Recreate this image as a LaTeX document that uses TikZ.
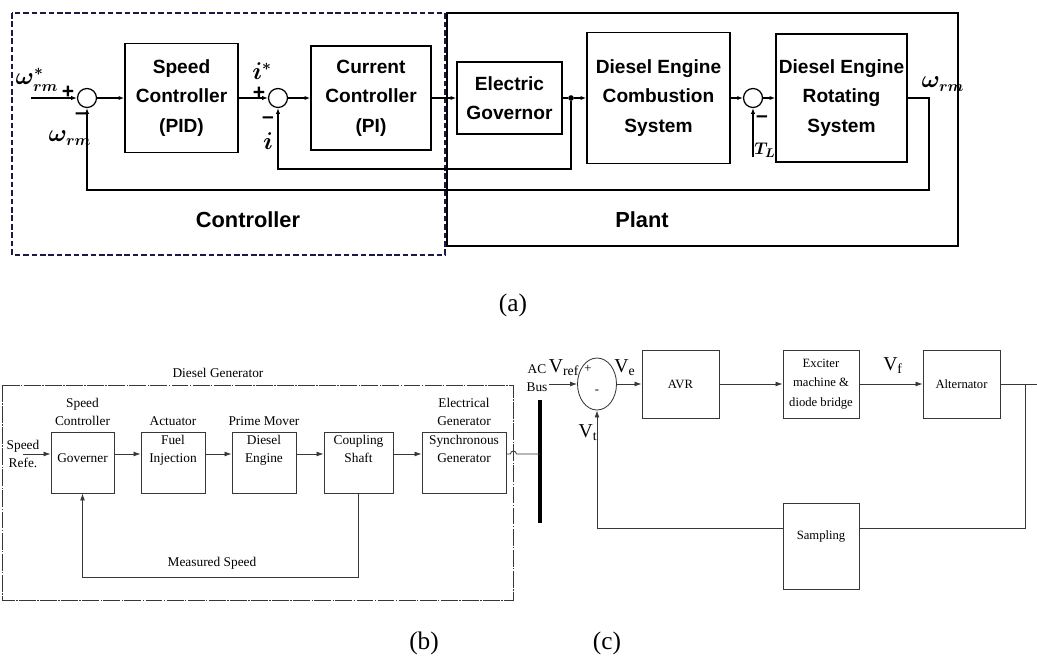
\documentclass[tikz,border=0pt]{standalone}
\usepackage{fontspec}
\setmainfont{Liberation Serif}
\setsansfont{Liberation Sans}
\usepackage{tikz}
\usetikzlibrary{arrows.meta, positioning, calc, shapes.geometric}
\definecolor{ctrlnavy}{RGB}{25,25,70}
\definecolor{thingray}{RGB}{55,55,55}
\newcommand{\pxl}{0.025cm}
\newcommand{\stk}[1]{\begin{tabular}[b]{@{}c@{}}#1\end{tabular}}
\tikzset{
    % bold sans blocks of the drive loop (a)
    ablock/.style 2 args={draw, line width=1.1pt, align=center, inner sep=1pt,
        minimum width=#1*\pxl, minimum height=#2*\pxl,
        font=\sffamily\bfseries\fontsize{13.6}{21}\selectfont},
    % small summing junction
    asum/.style={circle, draw, line width=0.9pt, minimum size=19*\pxl, inner sep=0pt},
    % signal lines of (a)
    asig/.style={-{Latex[length=4pt, width=3pt]}, line width=0.9pt},
    aline/.style={line width=0.9pt},
    amath/.style={font=\boldmath\fontsize{16}{18}\selectfont, inner sep=0pt},
    asign/.style={font=\sffamily\bfseries\fontsize{15}{15}\selectfont, inner sep=0pt},
    atitle/.style={font=\sffamily\bfseries\fontsize{15.5}{18}\selectfont},
    % thin serif blocks of (b) and (c)
    bblock/.style 2 args={draw=thingray, line width=0.6pt, align=center, inner sep=1pt,
        minimum width=#1*\pxl, minimum height=#2*\pxl},
    bstack/.style={text height=4pt, text depth=4pt, font=\fontsize{9.5}{12.8}\selectfont},
    blabel/.style={align=center, inner sep=1pt, font=\fontsize{9.5}{12.8}\selectfont},
    cfont/.style={font=\fontsize{9}{14}\selectfont},
    bsig/.style={-{Latex[length=5pt, width=3.5pt]}, line width=0.6pt, draw=thingray},
    bline/.style={line width=0.6pt, draw=thingray},
    vlab/.style={font=\fontsize{14}{16}\selectfont, inner sep=0pt},
    caption/.style={font=\fontsize{18}{20}\selectfont},
}

\begin{document}
\begin{tikzpicture}[x=0.025cm, y=-0.025cm]
    \useasboundingbox (0,0) rectangle (1037,658);

    % ===== (a) speed loop of the diesel drive =====
    \draw[ctrlnavy, line width=2pt, dash pattern=on 4pt off 2pt] (12,13) rectangle (445,255);
    \draw[line width=1.2pt] (447,13) rectangle (958,246);

    \coordinate (win) at (31,98);
    \node[asum] (s1) at (87,98) {};
    \node[ablock={113}{109}] (spd) at (181.5,98) {Speed\\Controller\\(PID)};
    \node[asum] (s2) at (278,98) {};
    \node[ablock={120}{104}] (cur) at (371,98) {Current\\Controller\\(PI)};
    \node[ablock={105}{72}] (gov) at (509.5,98) {Electric\\Governor};
    \node[circle, fill, inner sep=0pt, minimum size=4pt] (jn) at (571,98) {};
    \node[ablock={143}{131}] (comb) at (658.5,98) {Diesel Engine\\Combustion\\System};
    \node[asum] (s3) at (753,98) {};
    \node[ablock={131}{128}] (rot) at (841.5,98) {Diesel Engine\\Rotating\\System};
    \coordinate (wout) at (929,98);
    \coordinate (tl) at (753,157);

    \draw[asig] (win) -- (s1);
    \draw[asig] (s1) -- (spd);
    \draw[asig] (spd) -- (s2);
    \draw[asig] (s2) -- (cur);
    \draw[asig] (cur) -- (gov);
    \draw[aline] (gov) -- (jn);
    \draw[asig] (jn) -- (comb);
    \draw[asig] (comb) -- (s3);
    \draw[asig] (s3) -- (rot);
    \draw[asig] (tl) -- (s3);
    % current feedback
    \draw[asig] (jn) -- ++(0,71) -| (s2);
    % speed feedback
    \draw[asig] (rot) -- (wout) -- ++(0,92) -| (s1);

    % signal names and signs
    \node[amath] (wref) at (37,80) {$\omega^{*}_{rm}$};
    \node[asign] at (68,92) {+};
    \node[asign] at (81,116) {--};
    \node[amath] (wfb) at (70,138) {$\omega_{rm}$};
    \node[amath] (iref) at (262,71) {$i^{*}$};
    \node[asign] at (259,93) {+};
    \node[asign] at (268,120) {--};
    \node[amath] (ifb) at (268,141) {$i$};
    \node[asign] at (762,119) {--};
    \node[amath, font=\boldmath\fontsize{13}{15}\selectfont] (tload) at (765,150) {$T_{L}$};
    \node[amath] (wrm) at (943,84) {$\omega_{rm}$};

    \node[atitle] at (248,220) {Controller};
    \node[atitle] at (642,220) {Plant};
    \node[caption] at (513,305) {(a)};

    % ===== (b) diesel generator =====
    \draw[bline, dash pattern=on 12pt off 1pt on 1pt off 1pt] (2,385) rectangle (513,600);
    \node[blabel] (dgname) at (218,373) {Diesel Generator};
    \coordinate (brow) at (0,454);

    \node[bblock={63}{61}, bstack] (gvn) at (82.5,462.5) {\stk{Governer}};
    \node[bblock={64}{61}, bstack] (fuel) at (173,462.5) {\stk{Fuel\\Injection}};
    \node[bblock={64}{61}, bstack] (eng) at (264,462.5) {\stk{Diesel\\Engine}};
    \node[bblock={69}{61}, bstack] (shaft) at (358.5,462.5) {\stk{Coupling\\Shaft}};
    \node[bblock={84}{61}, bstack] (syn) at (464,462.5) {\stk{Synchronous\\Generator}};

    \node[blabel, above=3pt of gvn] {Speed\\Controller};
    \node[blabel, above=3pt of fuel] {Actuator};
    \node[blabel, above=3pt of eng] {Prime Mover};
    \node[blabel, above=3pt of syn] {Electrical\\Generator};
    \node[blabel] (sref) at (23,454) {Speed\\Refe.};

    \draw[bsig] (sref.center) -- (gvn.west |- brow);
    \draw[bsig] (gvn.east |- brow) -- (fuel.west |- brow);
    \draw[bsig] (fuel.east |- brow) -- (eng.west |- brow);
    \draw[bsig] (eng.east |- brow) -- (shaft.west |- brow);
    \draw[bsig] (shaft.east |- brow) -- (syn.west |- brow);
    \draw[bsig] (shaft.south) -- ++(0,84) -| (gvn.south);
    \node[blabel] (meas) at (212,563) {Measured Speed};

    % AC bus bar
    \coordinate (busT) at (540,400);
    \coordinate (busB) at (540,523);
    \draw[line width=3pt] (busT) -- (busB);
    \draw[bline] (syn.east |- brow) -- ++(4,0) arc[start angle=180, end angle=360, radius=3]
        -- (busT |- brow);

    \node[caption] at (424,643) {(b)};

    % ===== (c) voltage regulation loop =====
    \node[blabel] (acbus) at (537,378) {AC\\Bus};
    \node[ellipse, draw=thingray, line width=0.6pt, minimum width=39*\pxl,
          minimum height=52*\pxl, inner sep=0pt] (sc) at (597,384) {};
    \node[cfont, inner sep=0pt] at (588,369) {+};
    \node[cfont, inner sep=0pt] at (597,392) {-};
    \node[vlab] (vref) at (564,368) {V\textsubscript{ref}};
    \node[vlab] (ve) at (625,368) {V\textsubscript{e}};
    \node[vlab] (vt) at (588,433) {V\textsubscript{t}};
    \node[vlab] (vf) at (893,366) {V\textsubscript{f}};

    \node[bblock={77}{68}, cfont] (avr) at (680.5,384) {AVR};
    \node[bblock={76}{68}, cfont] (exc) at (821,384) {Exciter\\machine \&\\diode bridge};
    \node[bblock={77}{68}, cfont] (alt) at (961.5,384) {Alternator};
    \node[bblock={76}{86}, cfont, text height=2pt, text depth=10.6pt] (samp) at (821,546) {Sampling};
    \coordinate (cout) at (1037,384);
    \coordinate (ctap) at (1025,384);
    \coordinate (fbrow) at (0,528);

    \draw[bsig] (acbus.east |- sc.west) -- (sc.west);
    \draw[bsig] (sc) -- (avr);
    \draw[bsig] (avr) -- (exc);
    \draw[bsig] (exc) -- (alt);
    \draw[bline] (alt) -- (cout);
    \draw[bline] (ctap) |- (samp.east |- fbrow);
    \draw[bsig] (samp.west |- fbrow) -| (sc.south);

    \node[caption] at (607,643) {(c)};
\end{tikzpicture}
\end{document}
